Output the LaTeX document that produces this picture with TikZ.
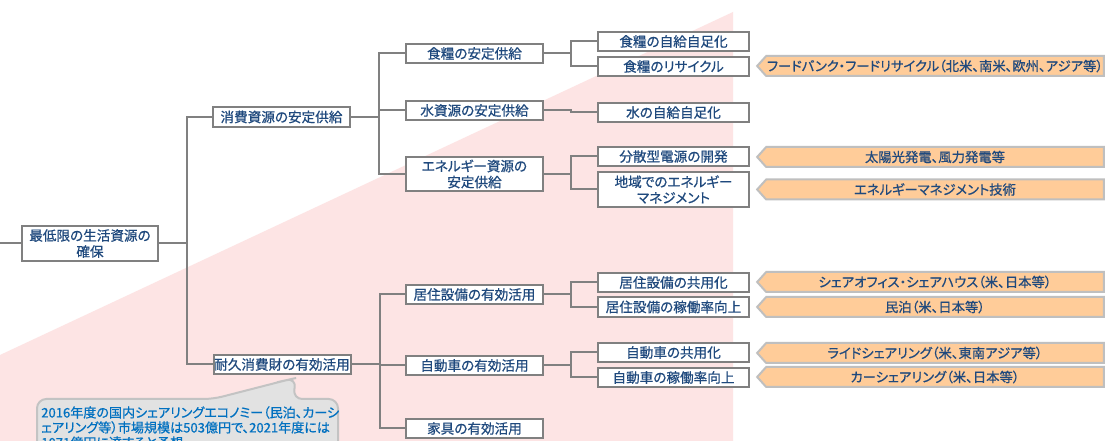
\documentclass[tikz,border=0pt]{standalone}
\usepackage{fontspec}
\setmainfont{Noto Sans CJK JP}[RawFeature={+palt;embolden=0.7}]
\usetikzlibrary{shapes.symbols}
\definecolor{pinkbg}{RGB}{253,228,228}
\definecolor{boxline}{RGB}{128,128,128}
\definecolor{boxtext}{RGB}{31,73,125}
\definecolor{orangefill}{RGB}{255,204,153}
\definecolor{orangeline}{RGB}{191,191,191}
\definecolor{calloutfill}{RGB}{226,226,226}
\definecolor{calloutline}{RGB}{195,195,195}
\definecolor{callouttext}{RGB}{0,112,192}
\begin{document}
\begin{tikzpicture}[x=0.75pt,y=-0.75pt,
  box/.style={draw=boxline, line width=1.5pt, fill=white, text=boxtext, inner sep=0pt,
    align=center, font=\fontsize{10.2}{12}\selectfont},
  lone/.style={box, minimum width=102.75pt, minimum height=14.6pt},
  ltwo/.style={box, minimum width=102.75pt, minimum height=14.6pt},
  ltwotall/.style={box, minimum width=102.75pt, minimum height=25.9pt},
  lthree/.style={box, minimum width=113.25pt, minimum height=14.6pt},
  lthreetall/.style={box, minimum width=113.25pt, minimum height=26.2pt},
  rootbox/.style={box, minimum width=102pt, minimum height=26.2pt},
  example/.style={signal, signal to=west, signal from=nowhere, signal pointer angle=96,
    draw=orangeline, line width=1.5pt, fill=orangefill, text=boxtext, inner sep=0pt,
    minimum width=260pt, minimum height=15pt, font=\fontsize{10}{12}\selectfont},
  conn/.style={draw=boxline, line width=1.5pt},
  calloutbg/.style={draw=calloutline, line width=1.5pt, fill=calloutfill},
  callouttxt/.style={text=callouttext, inner sep=0pt, align=left, anchor=north west,
    font=\fontsize{9.8}{11.25}\selectfont}
]
\useasboundingbox (0,0) rectangle (1118,441);
\clip (0,0) rectangle (1118,441);
% background
\fill[white] (0,0) rectangle (1118,441);
\fill[pinkbg] (0,355) -- (733,12) -- (733,460) -- (0,460) -- cycle;

% nodes
\coordinate (in) at (0,243.5);
\node[rootbox] (root) at (90,243.5) {最低限の生活資源の\\確保};

\node[lone] (cons) at (281.5,117) {消費資源の安定供給};
\node[lone] (dur) at (282,364.5) {耐久消費財の有効活用};

\node[ltwo] (food) at (474.5,53.5) {食糧の安定供給};
\node[ltwo] (water) at (474.5,110.5) {水資源の安定供給};
\node[ltwotall] (energy) at (474.5,174) {エネルギー資源の\\安定供給};
\node[ltwo] (house) at (474.5,294.5) {居住設備の有効活用};
\node[ltwo] (car) at (474.5,365.5) {自動車の有効活用};
\node[ltwo] (furn) at (474.5,428.5) {家具の有効活用};

\node[lthree] (foodself) at (673.5,41.5) {食糧の自給自足化};
\node[lthree] (foodrec) at (673.5,66.5) {食糧のリサイクル};
\node[lthree] (waterself) at (673.5,112.5) {水の自給自足化};
\node[lthree] (dist) at (673.5,156.5) {分散型電源の開発};
\node[lthreetall] (local) at (673.5,189.5) {地域でのエネルギー\\マネジメント};
\node[lthree] (houseshare) at (673.5,282.5) {居住設備の共用化};
\node[lthree] (houserate) at (673.5,307) {居住設備の稼働率向上};
\node[lthree] (carshare) at (673.5,352.5) {自動車の共用化};
\node[lthree] (carrate) at (673.5,377.5) {自動車の稼働率向上};

\node[example] (ex1) at (935,66) {フードバンク・フードリサイクル（北米、南米、欧州、アジア等）};
\node[example] (ex2) at (935,157) {太陽光発電、風力発電等};
\node[example] (ex3) at (935,189.5) {エネルギーマネジメント技術};
\node[example] (ex4) at (935,282) {シェアオフィス・シェアハウス（米、日本等）};
\node[example] (ex5) at (935,307) {民泊（米、日本等）};
\node[example] (ex6) at (935,353) {ライドシェアリング（米、東南アジア等）};
\node[example] (ex7) at (935,377) {カーシェアリング（米、日本等）};

% connectors
\draw[conn] (in) -- (root.west);
\draw[conn] (root.east) -- ++(28,0) |- (cons.west);
\draw[conn] (root.east) -- ++(28,0) |- (dur.west);
\draw[conn] (cons.east) -- ++(28,0) |- (food.west);
\draw[conn] (cons.east) -- ++(28,0) |- (water.west);
\draw[conn] (cons.east) -- ++(28,0) |- (energy.west);
\draw[conn] (dur.east) -- ++(28,0) |- (house.west);
\draw[conn] (dur.east) -- ++(28,0) |- (car.west);
\draw[conn] (dur.east) -- ++(28,0) |- (furn.west);
\draw[conn] (food.east) -- ++(27,0) |- (foodself.west);
\draw[conn] (food.east) -- ++(27,0) |- (foodrec.west);
\draw[conn] (water.east) -- ++(27,0) |- (waterself.west);
\draw[conn] (energy.east) -- ++(27,0) |- (dist.west);
\draw[conn] (energy.east) -- ++(27,0) |- (local.west);
\draw[conn] (house.east) -- ++(27,0) |- (houseshare.west);
\draw[conn] (house.east) -- ++(27,0) |- (houserate.west);
\draw[conn] (car.east) -- ++(27,0) |- (carshare.west);
\draw[conn] (car.east) -- ++(27,0) |- (carrate.west);

% callout
\draw[calloutbg, rounded corners=7] (37,470) -- (37,399) -- (213,399) -- (287,380)
  -- (296,378) -- (293,399) -- (338,399) -- (338,470);
\node[callouttxt] (note) at (41,406) {2016年度の国内シェアリングエコノミー（民泊、カーシ\\ェアリング等）市場規模は503億円で、2021年度には\\1071億円に達すると予想};
\end{tikzpicture}
\end{document}
